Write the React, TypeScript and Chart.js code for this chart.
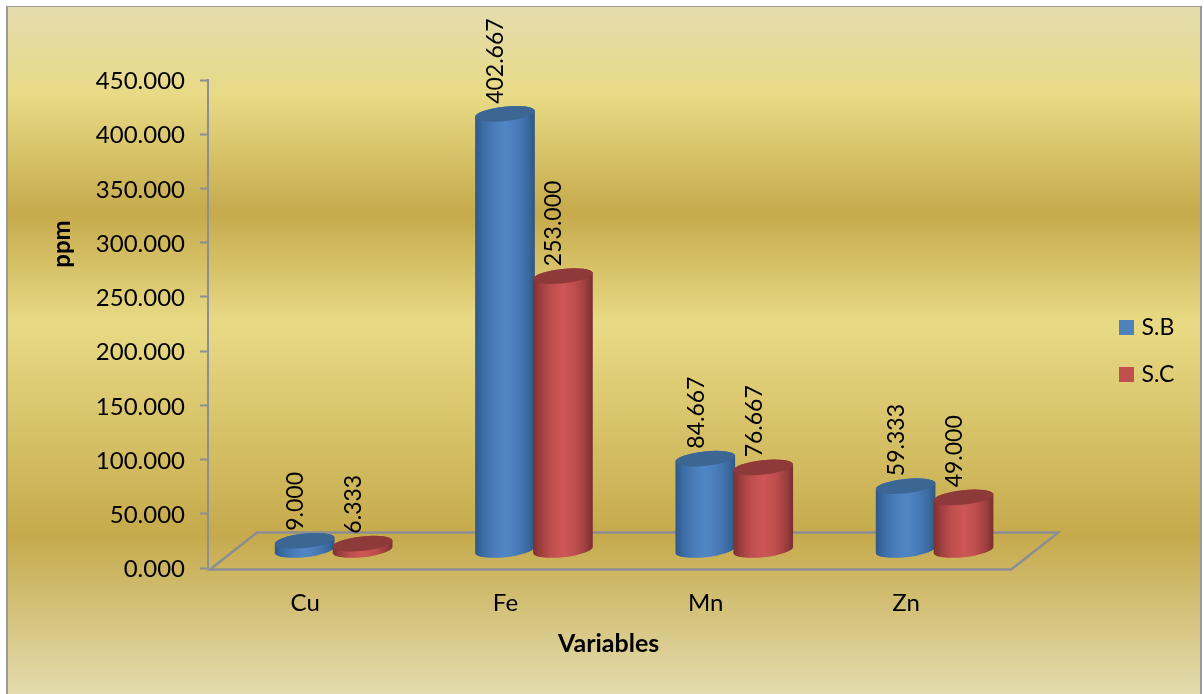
import React, { useEffect, useRef } from "react";
import { Chart, registerables } from "chart.js";

Chart.register(...registerables);

const categories = ["Cu", "Fe", "Mn", "Zn"];
const seriesSB = [9.0, 402.667, 84.667, 59.333];
const seriesSC = [6.333, 253.0, 76.667, 49.0];
const yAxisTitle = "ppm";
const xAxisTitle = "Variables";
const FONT = "Lato, Carlito, Calibri, sans-serif";
const GREY = "#8b8e93";

// Horizontal shading of each cylinder body and the flat colour of its cap.
const palettes = [
  {
    stops: [
      [0, "#2e5886"],
      [0.12, "#3a6ba3"],
      [0.3, "#497bb8"],
      [0.5, "#5186c5"],
      [0.7, "#497bb8"],
      [0.88, "#3a6ba1"],
      [1, "#2e5680"],
    ],
    cap: "#3c6694",
  },
  {
    stops: [
      [0, "#7a3030"],
      [0.12, "#9c3e3e"],
      [0.3, "#bf4e4e"],
      [0.5, "#ce5656"],
      [0.7, "#bf4e4e"],
      [0.88, "#9c3e3e"],
      [1, "#772f2f"],
    ],
    cap: "#8f3a3a",
  },
];

// Offset that lifts the columns from the front plane to the middle of the floor.
const DEPTH_X = 25.5;
const DEPTH_Y = -17.5;
const RADIUS_X = 30;
const RADIUS_Y = 7.2;
const TILT = (-6 * Math.PI) / 180;

const backdrop = {
  id: "backdrop",
  beforeDraw(chart: any) {
    const { ctx, width, height } = chart;
    ctx.save();
    ctx.fillStyle = "#ffffff";
    ctx.fillRect(0, 0, width, height);
    const g = ctx.createLinearGradient(0, 7, 0, height);
    g.addColorStop(0, "#e4dcae");
    g.addColorStop(0.13, "#e8da85");
    g.addColorStop(0.3, "#c6aa4c");
    g.addColorStop(0.46, "#e8da85");
    g.addColorStop(0.77, "#c6aa4c");
    g.addColorStop(1, "#e4dcae");
    ctx.fillStyle = g;
    ctx.fillRect(7, 6, 1194, height - 6);
    ctx.fillStyle = "#9a9a9a";
    ctx.fillRect(6, 6, 2, height - 6);
    ctx.fillRect(6, 6, 1196, 1);
    ctx.fillRect(1200, 6, 2, height - 6);
    ctx.restore();
  },
};

function drawFloor(chart: any) {
  const { ctx, scales } = chart;
  const y0 = scales.y.getPixelForValue(0) + 1.5;
  const left = scales.x.left + 2;
  const right = scales.x.right + 2;
  ctx.save();
  ctx.strokeStyle = GREY;
  ctx.lineWidth = 2.5;
  ctx.beginPath();
  ctx.moveTo(left, y0);
  ctx.lineTo(left + 47, y0 - 37);
  ctx.lineTo(right + 47, y0 - 37);
  ctx.lineTo(right, y0);
  ctx.closePath();
  ctx.stroke();
  ctx.restore();
}

function drawCylinder(ctx: any, cx: number, top: number, base: number, p: any) {
  const g = ctx.createLinearGradient(cx - RADIUS_X, 0, cx + RADIUS_X, 0);
  p.stops.forEach((s: any) => g.addColorStop(s[0], s[1]));
  ctx.fillStyle = g;
  ctx.beginPath();
  ctx.ellipse(cx, base, RADIUS_X, RADIUS_Y, TILT, 0, Math.PI);
  ctx.ellipse(cx, top, RADIUS_X, RADIUS_Y, TILT, Math.PI, Math.PI * 2);
  ctx.closePath();
  ctx.fill();
  ctx.fillStyle = p.cap;
  ctx.beginPath();
  ctx.ellipse(cx, top, RADIUS_X, RADIUS_Y, TILT, 0, Math.PI * 2);
  ctx.fill();
}

const cylinders = {
  id: "cylinders",
  beforeDatasetsDraw(chart: any) {
    drawFloor(chart);
    const { ctx } = chart;
    ctx.save();
    chart.data.datasets.forEach((_: any, d: number) => {
      chart.getDatasetMeta(d).data.forEach((bar: any) => {
        drawCylinder(ctx, bar.x + DEPTH_X, bar.y + DEPTH_Y, bar.base + DEPTH_Y, palettes[d]);
      });
    });
    ctx.restore();
  },
  // The flat rectangles are replaced by the cylinders above.
  beforeDatasetDraw() {
    return false;
  },
  afterDatasetsDraw(chart: any) {
    const { ctx } = chart;
    ctx.save();
    ctx.fillStyle = "#000000";
    ctx.font = `23px ${FONT}`;
    ctx.textAlign = "left";
    ctx.textBaseline = "middle";
    chart.data.datasets.forEach((ds: any, d: number) => {
      chart.getDatasetMeta(d).data.forEach((bar: any, i: number) => {
        ctx.save();
        ctx.translate(bar.x + DEPTH_X - 9, bar.y + DEPTH_Y - 10);
        ctx.rotate(-Math.PI / 2);
        ctx.fillText(ds.data[i].toFixed(3), 0, 0);
        ctx.restore();
      });
    });
    ctx.font = `bold 24px ${FONT}`;
    ctx.textAlign = "center";
    ctx.translate(62, 244);
    ctx.rotate(-Math.PI / 2);
    ctx.fillText(yAxisTitle, 0, 0);
    ctx.restore();
  },
};

// Moves the legend beside the floor's right edge, centred on its own row block.
const legendPlacement = {
  id: "legendPlacement",
  afterLayout(chart: any) {
    const legend = chart.legend;
    const shiftX = 1099 - legend.left;
    legend.left += shiftX;
    legend.right += shiftX;
    legend.top -= 36;
    legend.bottom -= 36;
  },
};

export default function App() {
  const ref = useRef<HTMLCanvasElement>(null);

  useEffect(() => {
    document.body.style.margin = "0";
    const chart = new Chart(ref.current as HTMLCanvasElement, {
      type: "bar",
      data: {
        labels: categories,
        datasets: [
          {
            label: "S.B",
            data: seriesSB,
            backgroundColor: "#4f81bd",
            borderColor: "#4f81bd",
            borderWidth: 8,
            categoryPercentage: 0.5786,
            barPercentage: 1,
          },
          {
            label: "S.C",
            data: seriesSC,
            backgroundColor: "#c0504d",
            borderColor: "#c0504d",
            borderWidth: 8,
            categoryPercentage: 0.5786,
            barPercentage: 1,
          },
        ],
      },
      options: {
        responsive: false,
        animation: false,
        layout: { padding: { top: 80, left: 0, right: 109.5, bottom: 0 } },
        plugins: {
          tooltip: { enabled: false },
          legend: {
            position: "right",
            labels: {
              boxWidth: 7,
              boxHeight: 7,
              padding: 24,
              color: "#000000",
              font: { family: FONT, size: 23 },
            },
          },
        },
        scales: {
          x: {
            afterFit: (s: any) => {
              s.height = 126;
            },
            grid: { display: false },
            border: { display: false },
            ticks: {
              color: "#000000",
              padding: 13,
              labelOffset: -3,
              font: { family: FONT, size: 24 },
            },
            title: {
              display: true,
              text: xAxisTitle,
              color: "#000000",
              font: { family: FONT, size: 25, weight: "bold" },
              padding: { top: 0, bottom: 35 },
            },
          },
          y: {
            min: 0,
            max: 450,
            afterFit: (s: any) => {
              s.width = 208;
            },
            grid: {
              drawOnChartArea: false,
              drawTicks: true,
              tickLength: 8,
              tickColor: GREY,
              tickWidth: 2,
            },
            border: { display: true, color: GREY, width: 2 },
            ticks: {
              stepSize: 50,
              color: "#000000",
              padding: 15,
              labelOffset: 1.5,
              font: { family: FONT, size: 24 },
              callback: (v: any) => Number(v).toFixed(3),
            },
          },
        },
      },
      plugins: [backdrop, cylinders, legendPlacement],
    } as any);
    return () => chart.destroy();
  }, []);

  return <canvas ref={ref} width={1204} height={694} style={{ display: "block" }} />;
}
